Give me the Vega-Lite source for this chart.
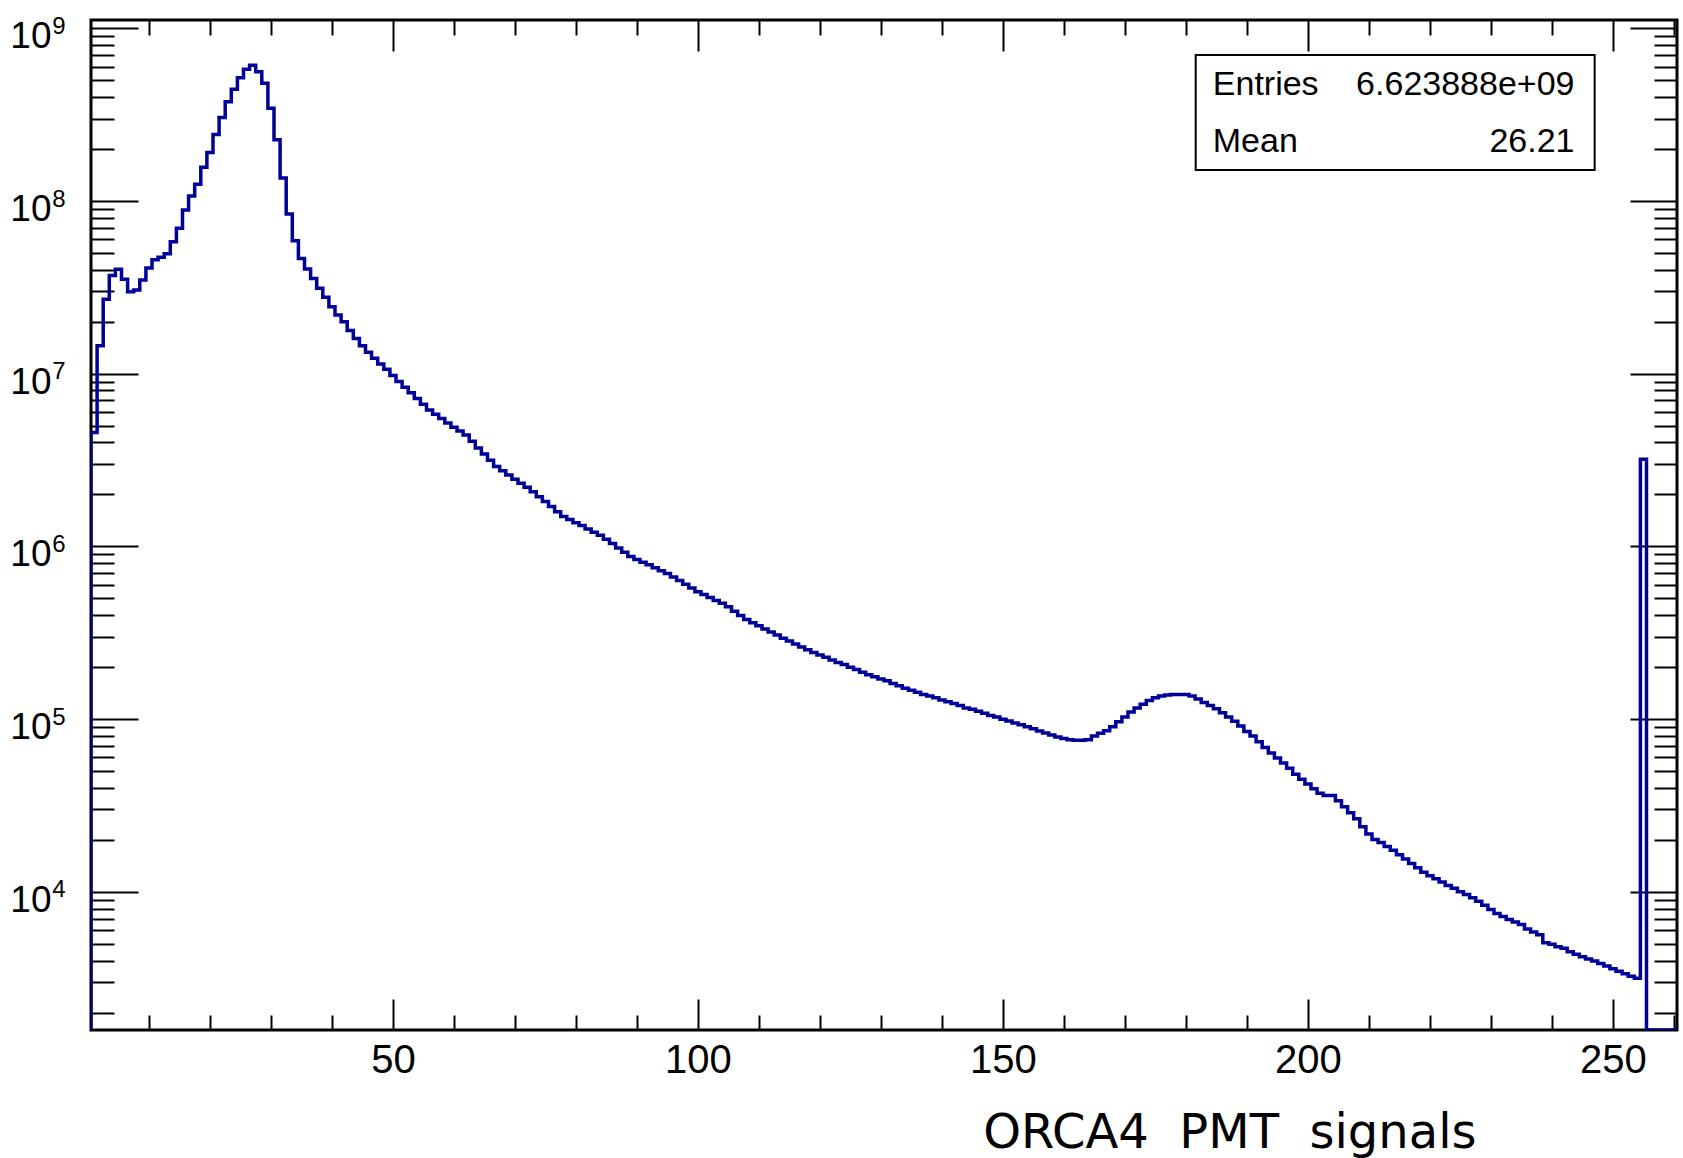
{
  "$schema": "https://vega.github.io/schema/vega-lite/v6.json",
  "width": 1586,
  "height": 1010,
  "autosize": "none",
  "padding": {"left": 91, "top": 20, "right": 6, "bottom": 128},
  "background": "white",
  "config": {
    "view": {"stroke": "black", "strokeWidth": 3},
    "axis": {"domain": false, "grid": false, "labelFont": "Liberation Sans", "labelColor": "black", "tickColor": "black", "tickWidth": 2, "labelOverlap": false, "labelFlush": false, "titleColor": "black"}
  },
  "datasets": {
    "hist": [
      {"adc":0,"entries":0},{"adc":1,"entries":4.56e6},{"adc":2,"entries":1.45e7},{"adc":3,"entries":2.70e7},{"adc":4,"entries":3.70e7},{"adc":5,"entries":4.03e7},{"adc":6,"entries":3.52e7},{"adc":7,"entries":2.98e7},{"adc":8,"entries":3.05e7},{"adc":9,"entries":3.49e7},
      {"adc":10,"entries":4.09e7},{"adc":11,"entries":4.57e7},{"adc":12,"entries":4.72e7},{"adc":13,"entries":4.95e7},{"adc":14,"entries":5.81e7},{"adc":15,"entries":6.95e7},{"adc":16,"entries":8.87e7},{"adc":17,"entries":1.07e8},{"adc":18,"entries":1.25e8},{"adc":19,"entries":1.57e8},
      {"adc":20,"entries":1.91e8},{"adc":21,"entries":2.43e8},{"adc":22,"entries":3.04e8},{"adc":23,"entries":3.76e8},{"adc":24,"entries":4.43e8},{"adc":25,"entries":5.18e8},{"adc":26,"entries":5.80e8},{"adc":27,"entries":6.10e8},{"adc":28,"entries":5.61e8},{"adc":29,"entries":4.80e8},
      {"adc":30,"entries":3.44e8},{"adc":31,"entries":2.26e8},{"adc":32,"entries":1.36e8},{"adc":33,"entries":8.41e7},{"adc":34,"entries":5.89e7},{"adc":35,"entries":4.65e7},{"adc":36,"entries":4.04e7},{"adc":37,"entries":3.56e7},{"adc":38,"entries":3.12e7},{"adc":39,"entries":2.77e7},
      {"adc":40,"entries":2.44e7},{"adc":41,"entries":2.19e7},{"adc":42,"entries":2.00e7},{"adc":43,"entries":1.78e7},{"adc":44,"entries":1.60e7},{"adc":45,"entries":1.45e7},{"adc":46,"entries":1.33e7},{"adc":47,"entries":1.23e7},{"adc":48,"entries":1.14e7},{"adc":49,"entries":1.06e7},
      {"adc":50,"entries":9.77e6},{"adc":51,"entries":9.02e6},{"adc":52,"entries":8.36e6},{"adc":53,"entries":7.76e6},{"adc":54,"entries":7.18e6},{"adc":55,"entries":6.65e6},{"adc":56,"entries":6.17e6},{"adc":57,"entries":5.82e6},{"adc":58,"entries":5.50e6},{"adc":59,"entries":5.19e6},
      {"adc":60,"entries":4.90e6},{"adc":61,"entries":4.66e6},{"adc":62,"entries":4.42e6},{"adc":63,"entries":4.06e6},{"adc":64,"entries":3.72e6},{"adc":65,"entries":3.43e6},{"adc":66,"entries":3.15e6},{"adc":67,"entries":2.90e6},{"adc":68,"entries":2.74e6},{"adc":69,"entries":2.59e6},
      {"adc":70,"entries":2.45e6},{"adc":71,"entries":2.32e6},{"adc":72,"entries":2.20e6},{"adc":73,"entries":2.07e6},{"adc":74,"entries":1.94e6},{"adc":75,"entries":1.82e6},{"adc":76,"entries":1.70e6},{"adc":77,"entries":1.59e6},{"adc":78,"entries":1.49e6},{"adc":79,"entries":1.43e6},
      {"adc":80,"entries":1.37e6},{"adc":81,"entries":1.32e6},{"adc":82,"entries":1.26e6},{"adc":83,"entries":1.21e6},{"adc":84,"entries":1.16e6},{"adc":85,"entries":1.10e6},{"adc":86,"entries":1.04e6},{"adc":87,"entries":9.79e5},{"adc":88,"entries":9.25e5},{"adc":89,"entries":8.73e5},
      {"adc":90,"entries":8.41e5},{"adc":91,"entries":8.11e5},{"adc":92,"entries":7.82e5},{"adc":93,"entries":7.52e5},{"adc":94,"entries":7.24e5},{"adc":95,"entries":6.98e5},{"adc":96,"entries":6.65e5},{"adc":97,"entries":6.34e5},{"adc":98,"entries":6.03e5},{"adc":99,"entries":5.74e5},
      {"adc":100,"entries":5.47e5},{"adc":101,"entries":5.26e5},{"adc":102,"entries":5.06e5},{"adc":103,"entries":4.86e5},{"adc":104,"entries":4.68e5},{"adc":105,"entries":4.47e5},{"adc":106,"entries":4.22e5},{"adc":107,"entries":3.98e5},{"adc":108,"entries":3.78e5},{"adc":109,"entries":3.61e5},
      {"adc":110,"entries":3.47e5},{"adc":111,"entries":3.33e5},{"adc":112,"entries":3.19e5},{"adc":113,"entries":3.07e5},{"adc":114,"entries":2.94e5},{"adc":115,"entries":2.83e5},{"adc":116,"entries":2.72e5},{"adc":117,"entries":2.62e5},{"adc":118,"entries":2.52e5},{"adc":119,"entries":2.43e5},
      {"adc":120,"entries":2.35e5},{"adc":121,"entries":2.28e5},{"adc":122,"entries":2.20e5},{"adc":123,"entries":2.13e5},{"adc":124,"entries":2.07e5},{"adc":125,"entries":2.00e5},{"adc":126,"entries":1.94e5},{"adc":127,"entries":1.87e5},{"adc":128,"entries":1.81e5},{"adc":129,"entries":1.76e5},
      {"adc":130,"entries":1.71e5},{"adc":131,"entries":1.67e5},{"adc":132,"entries":1.61e5},{"adc":133,"entries":1.56e5},{"adc":134,"entries":1.51e5},{"adc":135,"entries":1.47e5},{"adc":136,"entries":1.43e5},{"adc":137,"entries":1.39e5},{"adc":138,"entries":1.36e5},{"adc":139,"entries":1.33e5},
      {"adc":140,"entries":1.29e5},{"adc":141,"entries":1.26e5},{"adc":142,"entries":1.23e5},{"adc":143,"entries":1.20e5},{"adc":144,"entries":1.16e5},{"adc":145,"entries":1.14e5},{"adc":146,"entries":1.11e5},{"adc":147,"entries":1.08e5},{"adc":148,"entries":1.05e5},{"adc":149,"entries":1.03e5},
      {"adc":150,"entries":1.00e5},{"adc":151,"entries":9.75e4},{"adc":152,"entries":9.51e4},{"adc":153,"entries":9.27e4},{"adc":154,"entries":9.04e4},{"adc":155,"entries":8.79e4},{"adc":156,"entries":8.55e4},{"adc":157,"entries":8.32e4},{"adc":158,"entries":8.09e4},{"adc":159,"entries":7.89e4},
      {"adc":160,"entries":7.73e4},{"adc":161,"entries":7.59e4},{"adc":162,"entries":7.55e4},{"adc":163,"entries":7.55e4},{"adc":164,"entries":7.59e4},{"adc":165,"entries":7.98e4},{"adc":166,"entries":8.28e4},{"adc":167,"entries":8.57e4},{"adc":168,"entries":9.04e4},{"adc":169,"entries":9.66e4},
      {"adc":170,"entries":1.03e5},{"adc":171,"entries":1.10e5},{"adc":172,"entries":1.16e5},{"adc":173,"entries":1.22e5},{"adc":174,"entries":1.28e5},{"adc":175,"entries":1.33e5},{"adc":176,"entries":1.36e5},{"adc":177,"entries":1.38e5},{"adc":178,"entries":1.39e5},{"adc":179,"entries":1.39e5},
      {"adc":180,"entries":1.39e5},{"adc":181,"entries":1.36e5},{"adc":182,"entries":1.31e5},{"adc":183,"entries":1.25e5},{"adc":184,"entries":1.20e5},{"adc":185,"entries":1.15e5},{"adc":186,"entries":1.09e5},{"adc":187,"entries":1.03e5},{"adc":188,"entries":9.71e4},{"adc":189,"entries":9.12e4},
      {"adc":190,"entries":8.49e4},{"adc":191,"entries":7.98e4},{"adc":192,"entries":7.40e4},{"adc":193,"entries":6.86e4},{"adc":194,"entries":6.37e4},{"adc":195,"entries":5.96e4},{"adc":196,"entries":5.57e4},{"adc":197,"entries":5.19e4},{"adc":198,"entries":4.79e4},{"adc":199,"entries":4.48e4},
      {"adc":200,"entries":4.21e4},{"adc":201,"entries":3.95e4},{"adc":202,"entries":3.72e4},{"adc":203,"entries":3.61e4},{"adc":204,"entries":3.61e4},{"adc":205,"entries":3.37e4},{"adc":206,"entries":3.11e4},{"adc":207,"entries":2.87e4},{"adc":208,"entries":2.65e4},{"adc":209,"entries":2.38e4},
      {"adc":210,"entries":2.16e4},{"adc":211,"entries":2.01e4},{"adc":212,"entries":1.93e4},{"adc":213,"entries":1.83e4},{"adc":214,"entries":1.74e4},{"adc":215,"entries":1.64e4},{"adc":216,"entries":1.55e4},{"adc":217,"entries":1.46e4},{"adc":218,"entries":1.38e4},{"adc":219,"entries":1.30e4},
      {"adc":220,"entries":1.24e4},{"adc":221,"entries":1.19e4},{"adc":222,"entries":1.14e4},{"adc":223,"entries":1.09e4},{"adc":224,"entries":1.05e4},{"adc":225,"entries":1.00e4},{"adc":226,"entries":9.66e3},{"adc":227,"entries":9.23e3},{"adc":228,"entries":8.81e3},{"adc":229,"entries":8.36e3},
      {"adc":230,"entries":7.91e3},{"adc":231,"entries":7.50e3},{"adc":232,"entries":7.19e3},{"adc":233,"entries":6.92e3},{"adc":234,"entries":6.70e3},{"adc":235,"entries":6.46e3},{"adc":236,"entries":6.10e3},{"adc":237,"entries":5.86e3},{"adc":238,"entries":5.65e3},{"adc":239,"entries":5.07e3},
      {"adc":240,"entries":4.97e3},{"adc":241,"entries":4.81e3},{"adc":242,"entries":4.71e3},{"adc":243,"entries":4.50e3},{"adc":244,"entries":4.35e3},{"adc":245,"entries":4.21e3},{"adc":246,"entries":4.09e3},{"adc":247,"entries":3.98e3},{"adc":248,"entries":3.85e3},{"adc":249,"entries":3.72e3},
      {"adc":250,"entries":3.59e3},{"adc":251,"entries":3.47e3},{"adc":252,"entries":3.35e3},{"adc":253,"entries":3.25e3},{"adc":254,"entries":3.16e3},{"adc":255,"entries":3.2e6},{"adc":256,"entries":0},{"adc":257,"entries":0},{"adc":258,"entries":0},{"adc":259,"entries":0},
      {"adc":260,"entries":0},{"adc":261,"entries":0}
    ],
    "stats": [
      {"entries_label": "Entries", "entries_value": "6.623888e+09", "mean_label": "Mean", "mean_value": "26.21"}
    ]
  },
  "data": {"name": "hist"},
  "layer": [
    {
      "mark": {"type": "line", "interpolate": "step", "color": "#000099", "strokeWidth": 3.5, "clip": true, "invalid": "show"},
      "encoding": {
        "x": {"field": "adc", "type": "quantitative",
          "scale": {"type": "linear", "domain": [0.5, 260.5], "nice": false, "zero": false},
          "axis": {"orient": "bottom", "values": [50, 100, 150, 200, 250], "tickSize": -31, "labelPadding": 41, "labelFontSize": 40, "labelBaseline": "top",
            "title": "ORCA4\u00a0\u00a0PMT\u00a0\u00a0signals", "titleFont": "DejaVu Sans", "titleFontSize": 48, "titleFontWeight": "normal", "titleAnchor": null, "titleAlign": "right", "titleBaseline": "alphabetic", "titleX": 1385, "titleY": 117}},
        "y": {"field": "entries", "type": "quantitative",
          "scale": {"type": "log", "domain": [1585, 1.117e9], "nice": false, "clamp": true},
          "axis": {"orient": "left", "values": [10000, 100000, 1000000, 10000000, 100000000, 1000000000], "tickSize": -47, "labelExpr": "'10'", "labelFontSize": 37, "labelPadding": 87, "labelAlign": "right", "labelBaseline": "alphabetic", "labelOffset": 19.5, "title": null}}
      }
    },
    {
      "mark": {"type": "line", "opacity": 0, "clip": true, "invalid": "show"},
      "encoding": {
        "x": {"field": "adc", "type": "quantitative",
          "axis": {"orient": "bottom", "values": [10,20,30,40,60,70,80,90,110,120,130,140,160,170,180,190,210,220,230,240,260], "tickSize": -15, "labels": false, "title": null}},
        "y": {"field": "entries", "type": "quantitative",
          "axis": {"orient": "left", "values": [10000, 100000, 1000000, 10000000, 100000000, 1000000000], "ticks": false, "labelExpr": "'' + round(log(datum.value) / LN10)", "labelFontSize": 24, "labelPadding": 26, "labelAlign": "right", "labelBaseline": "alphabetic", "labelOffset": 5, "title": null}}
      }
    },
    {
      "mark": {"type": "line", "opacity": 0, "clip": true, "invalid": "show"},
      "encoding": {
        "x": {"field": "adc", "type": "quantitative",
          "axis": {"orient": "top", "values": [50, 100, 150, 200, 250], "tickSize": -31, "labels": false, "title": null}},
        "y": {"field": "entries", "type": "quantitative",
          "axis": {"orient": "left", "values": [2000,3000,4000,5000,6000,7000,8000,9000,20000,30000,40000,50000,60000,70000,80000,90000,200000,300000,400000,500000,600000,700000,800000,900000,2000000,3000000,4000000,5000000,6000000,7000000,8000000,9000000,20000000,30000000,40000000,50000000,60000000,70000000,80000000,90000000,200000000,300000000,400000000,500000000,600000000,700000000,800000000,900000000], "tickSize": -23, "labels": false, "title": null}}
      }
    },
    {
      "mark": {"type": "line", "opacity": 0, "clip": true, "invalid": "show"},
      "encoding": {
        "x": {"field": "adc", "type": "quantitative",
          "axis": {"orient": "top", "values": [10,20,30,40,60,70,80,90,110,120,130,140,160,170,180,190,210,220,230,240,260], "tickSize": -15, "labels": false, "title": null}},
        "y": {"field": "entries", "type": "quantitative",
          "axis": {"orient": "right", "values": [10000, 100000, 1000000, 10000000, 100000000, 1000000000], "tickSize": -47, "labels": false, "title": null}}
      }
    },
    {
      "mark": {"type": "line", "opacity": 0, "clip": true, "invalid": "show"},
      "encoding": {
        "x": {"field": "adc", "type": "quantitative", "axis": null},
        "y": {"field": "entries", "type": "quantitative",
          "axis": {"orient": "right", "values": [2000,3000,4000,5000,6000,7000,8000,9000,20000,30000,40000,50000,60000,70000,80000,90000,200000,300000,400000,500000,600000,700000,800000,900000,2000000,3000000,4000000,5000000,6000000,7000000,8000000,9000000,20000000,30000000,40000000,50000000,60000000,70000000,80000000,90000000,200000000,300000000,400000000,500000000,600000000,700000000,800000000,900000000], "tickSize": -23, "labels": false, "title": null}}
      }
    },
    {
      "data": {"name": "stats"},
      "mark": {"type": "rect", "fill": "white", "stroke": "black", "strokeWidth": 2},
      "encoding": {
        "x": {"datum": 181.6, "type": "quantitative", "axis": null},
        "x2": {"datum": 247.0},
        "y": {"datum": 7.0e8, "type": "quantitative", "axis": null},
        "y2": {"datum": 1.51e8}
      }
    },
    {
      "data": {"name": "stats"},
      "mark": {"type": "text", "font": "Liberation Sans", "fontSize": 34, "align": "left", "baseline": "alphabetic", "color": "black"},
      "encoding": {
        "x": {"datum": 184.4, "type": "quantitative", "axis": null},
        "y": {"datum": 4.1e8, "type": "quantitative", "axis": null},
        "text": {"field": "entries_label"}
      }
    },
    {
      "data": {"name": "stats"},
      "mark": {"type": "text", "font": "Liberation Sans", "fontSize": 34, "align": "right", "baseline": "alphabetic", "color": "black"},
      "encoding": {
        "x": {"datum": 243.7, "type": "quantitative", "axis": null},
        "y": {"datum": 4.1e8, "type": "quantitative", "axis": null},
        "text": {"field": "entries_value"}
      }
    },
    {
      "data": {"name": "stats"},
      "mark": {"type": "text", "font": "Liberation Sans", "fontSize": 34, "align": "left", "baseline": "alphabetic", "color": "black"},
      "encoding": {
        "x": {"datum": 184.4, "type": "quantitative", "axis": null},
        "y": {"datum": 1.92e8, "type": "quantitative", "axis": null},
        "text": {"field": "mean_label"}
      }
    },
    {
      "data": {"name": "stats"},
      "mark": {"type": "text", "font": "Liberation Sans", "fontSize": 34, "align": "right", "baseline": "alphabetic", "color": "black"},
      "encoding": {
        "x": {"datum": 243.7, "type": "quantitative", "axis": null},
        "y": {"datum": 1.92e8, "type": "quantitative", "axis": null},
        "text": {"field": "mean_value"}
      }
    }
  ],
  "resolve": {"axis": {"x": "independent", "y": "independent"}}
}
